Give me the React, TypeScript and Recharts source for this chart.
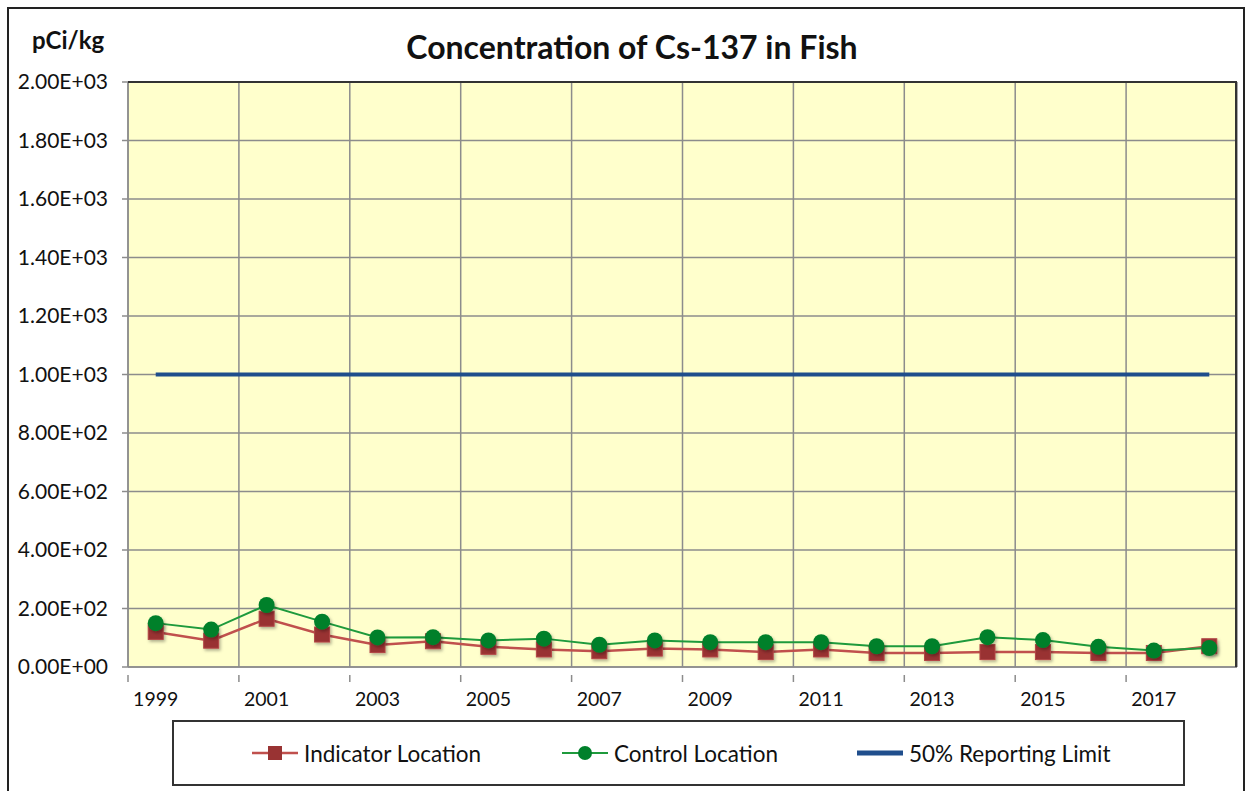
import React from "react";
import { LineChart, Line, XAxis, YAxis, CartesianGrid, Legend } from "recharts";

// values (pCi/kg)
const YEARS = ["1999", "2000", "2001", "2002", "2003", "2004", "2005", "2006", "2007", "2008",
  "2009", "2010", "2011", "2012", "2013", "2014", "2015", "2016", "2017", "2018"];
const INDICATOR = [120, 90, 165, 111, 75, 88, 69, 60, 54, 63, 60, 51, 60, 48, 48, 51, 51, 48, 48, 71];
const CONTROL = [150, 128, 212, 155, 101, 102, 91, 97, 76, 91, 85, 85, 85, 71, 71, 102, 92, 69, 56, 65];
const REPORTING_LIMIT = [1000, 1000, 1000, 1000, 1000, 1000, 1000, 1000, 1000, 1000,
  1000, 1000, 1000, 1000, 1000, 1000, 1000, 1000, 1000, 1000];
const Y_TICKS = [0, 200, 400, 600, 800, 1000, 1200, 1400, 1600, 1800, 2000];

const data = YEARS.map((year, i) => ({
  year,
  indicator: INDICATOR[i],
  control: CONTROL[i],
  limit: REPORTING_LIMIT[i],
}));

const W = 1250;
const H = 791;
const PLOT_LEFT = 128;
const PLOT_TOP = 82;
const PLOT_RIGHT = 1237;
const PLOT_BOTTOM = 667;
const PLOT_W = PLOT_RIGHT - PLOT_LEFT;
const STEP = PLOT_W / YEARS.length;

const COLORS = {
  indicatorLine: "#c0504d",
  indicatorMark: "#993333",
  controlLine: "#1e9a3c",
  controlMark: "#00802b",
  limit: "#1f4e8c",
  grid: "#8c8c8c",
  plotBg: "#ffffcc",
};

const FONT = "Lato, 'Open Sans', sans-serif";

// excel style scientific labels: 2.00E+03
function sci(v: number) {
  if (v === 0) return "0.00E+00";
  const exp = Math.floor(Math.log10(Math.abs(v)));
  const mant = v / Math.pow(10, exp);
  const sign = exp < 0 ? "-" : "+";
  return `${mant.toFixed(2)}E${sign}${String(Math.abs(exp)).padStart(2, "0")}`;
}

function XTick(props: any) {
  const { x, y, payload } = props;
  const bx = x - STEP / 2;
  return (
    <g>
      <line x1={bx} x2={bx} y1={y} y2={y + 7} stroke={COLORS.grid} strokeWidth={1.5} />
      <text x={x} y={y + 31} textAnchor="middle" fontSize={19.5} fill="#111" fontFamily={FONT}>
        {payload.value}
      </text>
    </g>
  );
}

function SquareDot(props: any) {
  const { cx, cy } = props;
  if (cx == null || cy == null) return null;
  return (
    <rect x={cx - 7.5} y={cy - 7.5} width={15} height={15} fill={COLORS.indicatorMark}
      stroke="#b24545" strokeWidth={1} filter="url(#markShadow)" />
  );
}

function CircleDot(props: any) {
  const { cx, cy } = props;
  if (cx == null || cy == null) return null;
  return <circle cx={cx} cy={cy} r={8} fill={COLORS.controlMark} filter="url(#markShadow)" />;
}

function LegendBox() {
  const item = (icon: React.ReactNode, label: string, w: number) => (
    <div style={{ display: "flex", alignItems: "center", width: w }}>
      <svg width={50} height={20} style={{ marginRight: 4 }}>{icon}</svg>
      <span>{label}</span>
    </div>
  );
  return (
    <div style={{
      width: "100%", height: "100%", boxSizing: "border-box", border: "2px solid #333",
      display: "flex", alignItems: "center", paddingLeft: 76, fontFamily: FONT, fontSize: 22.5, color: "#111",
    }}>
      {item(<g>
        <line x1={2} x2={48} y1={10} y2={10} stroke={COLORS.indicatorLine} strokeWidth={2.5} />
        <rect x={18} y={3} width={14} height={14} fill={COLORS.indicatorMark} />
      </g>, "Indicator Location", 310)}
      {item(<g>
        <line x1={2} x2={48} y1={10} y2={10} stroke={COLORS.controlLine} strokeWidth={2} />
        <circle cx={25} cy={10} r={7} fill={COLORS.controlMark} />
      </g>, "Control Location", 295)}
      {item(<line x1={2} x2={48} y1={10} y2={10} stroke={COLORS.limit} strokeWidth={5} />,
        "50% Reporting Limit", 300)}
    </div>
  );
}

export default function App() {
  return (
    <div style={{ position: "fixed", left: 0, top: 0, width: W, height: H, background: "#fff", fontFamily: FONT }}>
      <svg width={0} height={0} style={{ position: "absolute" }}>
        <defs>
          <filter id="markShadow" x="-50%" y="-50%" width="200%" height="200%">
            <feDropShadow dx={1.5} dy={2} stdDeviation={1.5} floodColor="#000" floodOpacity={0.3} />
          </filter>
        </defs>
      </svg>

      {/* outer frame, bottom edge runs off the picture */}
      <div style={{
        position: "absolute", left: 7, top: 7, width: 1238, height: 800,
        border: "2px solid #222", boxSizing: "border-box",
      }} />

      <div style={{ position: "absolute", left: 32, top: 25, fontSize: 24, fontWeight: 700, color: "#111" }}>
        pCi/kg
      </div>
      <div style={{
        position: "absolute", left: 0, width: 1264, top: 27, textAlign: "center",
        fontSize: 32, fontWeight: 700, color: "#111",
      }}>
        Concentration of Cs-137 in Fish
      </div>

      <div style={{ position: "absolute", left: 0, top: 0 }}>
        <LineChart
          width={W}
          height={H}
          data={data}
          margin={{ top: PLOT_TOP, right: W - PLOT_RIGHT, bottom: H - PLOT_BOTTOM - 40, left: 10 }}
        >
          <CartesianGrid
            fill={COLORS.plotBg}
            fillOpacity={1}
            stroke={COLORS.grid}
            strokeWidth={1.5}
            verticalCoordinatesGenerator={({ offset }: any) =>
              Array.from({ length: 11 }, (_, i) => offset.left + (i * offset.width) / 10)}
          />
          <XAxis
            dataKey="year"
            interval={1}
            height={40}
            padding={{ left: STEP / 2, right: STEP / 2 }}
            tickLine={false}
            axisLine={{ stroke: COLORS.grid, strokeWidth: 1.5 }}
            tick={<XTick />}
          />
          <YAxis
            width={PLOT_LEFT - 10}
            domain={[0, 2000]}
            ticks={Y_TICKS}
            interval={0}
            tickFormatter={(v) => sci(Number(v))}
            tickSize={6}
            tickMargin={14}
            tick={{ fontSize: 21, fill: "#111", fontFamily: FONT }}
            tickLine={{ stroke: COLORS.grid, strokeWidth: 1.5 }}
            axisLine={{ stroke: COLORS.grid, strokeWidth: 1.5 }}
          />
          <Legend
            layout="horizontal"
            verticalAlign="middle"
            align="center"
            wrapperStyle={{ left: 172, top: 720, width: 1013, height: 66 }}
            content={() => <LegendBox />}
          />

          <Line dataKey="indicator" name="Indicator Location" stroke={COLORS.indicatorLine}
            strokeWidth={2.5} dot={<SquareDot />} activeDot={false} isAnimationActive={false} />
          <Line dataKey="control" name="Control Location" stroke={COLORS.controlLine}
            strokeWidth={2} dot={<CircleDot />} activeDot={false} isAnimationActive={false} />
          <Line dataKey="limit" name="50% Reporting Limit" stroke={COLORS.limit}
            strokeWidth={4} dot={false} activeDot={false} isAnimationActive={false} />
        </LineChart>
      </div>

      {/* dark top / right edge of plot area */}
      <div style={{
        position: "absolute", left: PLOT_LEFT, top: PLOT_TOP - 1, width: PLOT_W, height: PLOT_BOTTOM - PLOT_TOP + 1,
        borderTop: "2px solid #333", borderRight: "2px solid #333", boxSizing: "border-box", pointerEvents: "none",
      }} />
    </div>
  );
}
